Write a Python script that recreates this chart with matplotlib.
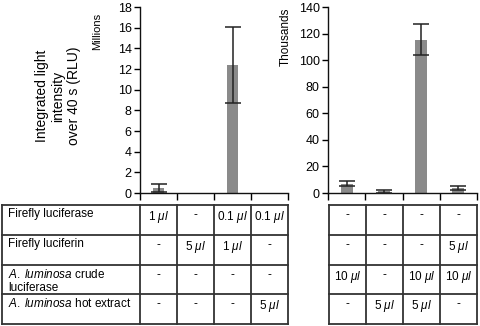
import matplotlib
matplotlib.use("Agg")
import matplotlib.pyplot as plt
from matplotlib.lines import Line2D

plt.rcParams['font.family'] = ['Liberation Sans', 'DejaVu Sans']
plt.rcParams['mathtext.fontset'] = 'custom'
plt.rcParams['mathtext.rm'] = 'Liberation Sans'
plt.rcParams['mathtext.it'] = 'Liberation Sans:italic'

# ---- data ----
left_values = [0.45, 0.0, 12.4, 0.0]          # millions RLU
left_errors = [0.38, 0.0, 3.7, 0.0]
right_values = [7.0, 1.3, 115.5, 4.0]         # thousands RLU
right_errors = [1.7, 1.3, 12.0, 1.5]
left_yticks = [0, 2, 4, 6, 8, 10, 12, 14, 16, 18]
right_yticks = [0, 20, 40, 60, 80, 100, 120, 140]

row_labels = ["Firefly luciferase", "Firefly luciferin",
              "$\\mathit{A.\\;luminosa}$ crude\nluciferase",
              "$\\mathit{A.\\;luminosa}$ hot extract"]
left_cells = [["1 $\\mathit{\\mu l}$", "-", "0.1 $\\mathit{\\mu l}$", "0.1 $\\mathit{\\mu l}$"],
              ["-", "5 $\\mathit{\\mu l}$", "1 $\\mathit{\\mu l}$", "-"],
              ["-", "-", "-", "-"],
              ["-", "-", "-", "5 $\\mathit{\\mu l}$"]]
right_cells = [["-", "-", "-", "-"],
               ["-", "-", "-", "5 $\\mathit{\\mu l}$"],
               ["10 $\\mathit{\\mu l}$", "-", "10 $\\mathit{\\mu l}$", "10 $\\mathit{\\mu l}$"],
               ["-", "5 $\\mathit{\\mu l}$", "5 $\\mathit{\\mu l}$", "-"]]

W, H = 480, 326
fig = plt.figure(figsize=(W / 100, H / 100), dpi=100)
fig.patch.set_facecolor('white')

def px_ax(x0, y_top, x1, y_bot):
    return fig.add_axes([x0 / W, 1 - y_bot / H, (x1 - x0) / W, (y_bot - y_top) / H])

bar_color = '#8a8a8a'
err_color = '#222222'

def draw_bars(ax, vals, errs, ymax, yticks):
    xs = list(range(1, len(vals) + 1))
    ax.bar(xs, vals, width=0.32, color=bar_color, edgecolor='none', zorder=2)
    for x, v, e in zip(xs, vals, errs):
        if v > 0:
            ax.errorbar([x], [v], yerr=[e], fmt='none', ecolor=err_color,
                        elinewidth=1.1, capsize=6, capthick=1.1, zorder=3)
    ax.set_xlim(0.5, len(vals) + 0.5)
    ax.set_ylim(0, ymax)
    ax.set_yticks(yticks)
    ax.set_xticks([i + 0.5 for i in range(len(vals) + 1)])
    ax.set_xticklabels([])
    for s in ['top', 'right']:
        ax.spines[s].set_visible(False)
    for s in ['left', 'bottom']:
        ax.spines[s].set_linewidth(1.0)
        ax.spines[s].set_color('#111111')
    ax.tick_params(axis='y', direction='out', length=4, width=1.0, labelsize=9, pad=2)
    ax.tick_params(axis='x', direction='out', length=5, width=1.0)
    ax.patch.set_alpha(0)

axL = px_ax(140, 7, 288, 193)
draw_bars(axL, left_values, left_errors, 18, left_yticks)
axR = px_ax(328, 7, 477, 193)
draw_bars(axR, right_values, right_errors, 140, right_yticks)

# overlay for labels and table
ov = fig.add_axes([0, 0, 1, 1])
ov.set_xlim(0, W)
ov.set_ylim(H, 0)
ov.axis('off')
ov.patch.set_alpha(0)

ov.text(58, 96, "Integrated light\nintensity\nover 40 s (RLU)", rotation=90,
        ha='center', va='center', fontsize=10, linespacing=1.2)
ov.text(97, 31, "Millions", rotation=90, ha='center', va='center', fontsize=8)
ov.text(286, 37, "Thousands", rotation=90, ha='center', va='center', fontsize=8.5)

row_y = [205, 235, 265, 294, 324]
lw = 1.3
lc = '#333333'

def hline(x0, x1, y):
    ov.add_line(Line2D([x0, x1], [y, y], color=lc, lw=lw))

def vline(x, y0, y1):
    ov.add_line(Line2D([x, x], [y0, y1], color=lc, lw=lw))

# left table
left_cols = [2, 140, 177, 214, 251, 288]
for y in row_y:
    hline(left_cols[0], left_cols[-1], y)
for x in left_cols:
    vline(x, row_y[0], row_y[-1])
# right table
right_cols = [329, 366, 403, 440, 477]
for y in row_y:
    hline(right_cols[0], right_cols[-1], y)
for x in right_cols:
    vline(x, row_y[0], row_y[-1])

for i, lab in enumerate(row_labels):
    ov.text(8, row_y[i] + 3, lab, ha='left', va='top', fontsize=8.5, linespacing=1.15)
    for j in range(4):
        cx = (left_cols[j + 1] + left_cols[j + 2]) / 2
        ov.text(cx, row_y[i] + 4, left_cells[i][j], ha='center', va='top', fontsize=8.5)
        cx = (right_cols[j] + right_cols[j + 1]) / 2
        ov.text(cx, row_y[i] + 4, right_cells[i][j], ha='center', va='top', fontsize=8.5)

fig.savefig('out.png', dpi=100, facecolor='white')
